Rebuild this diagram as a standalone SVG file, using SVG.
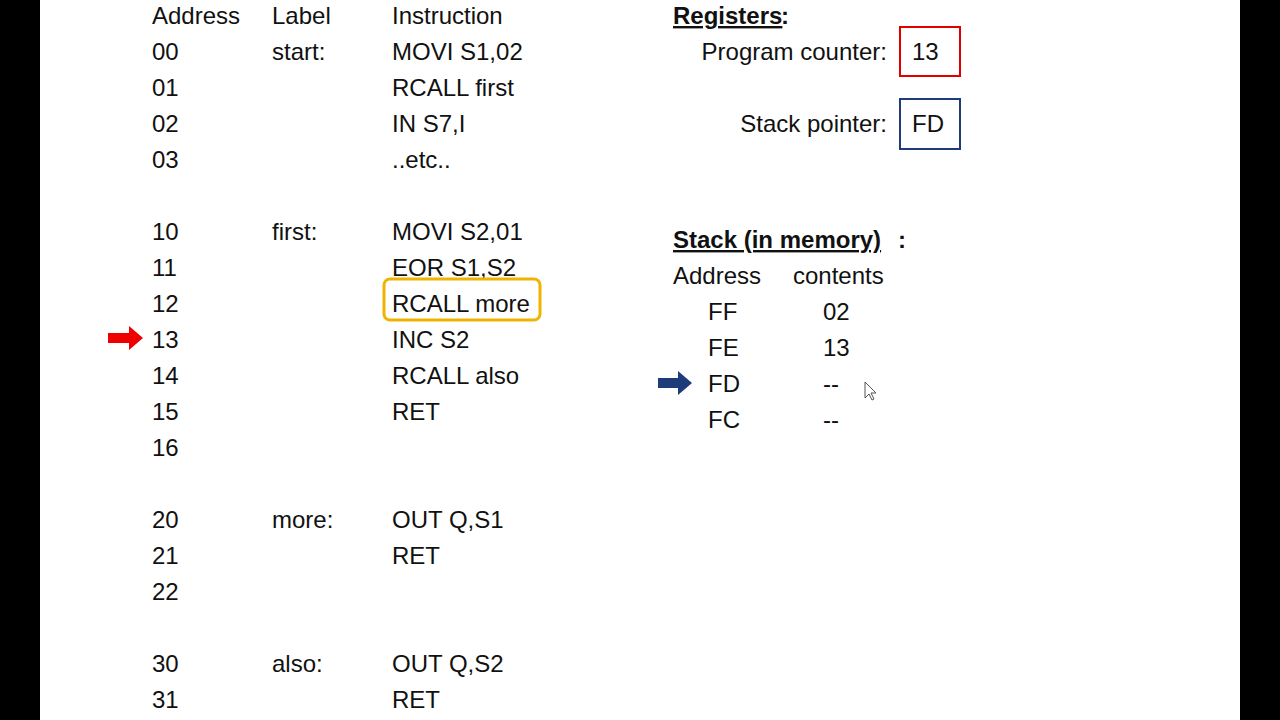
<svg xmlns="http://www.w3.org/2000/svg" width="1280" height="720" viewBox="0 0 1280 720">
<style>
text{font-family:"Liberation Sans",Arial,sans-serif;font-size:24px;fill:#111}
.b{font-weight:bold;text-decoration:underline}
</style>
<rect width="1280" height="720" fill="#fff"/>
<rect x="0" y="0" width="40" height="720" fill="#000"/>
<rect x="1240" y="0" width="40" height="720" fill="#000"/>
<g id="program">
<text x="152" y="24">Address</text><text x="272" y="24">Label</text><text x="392" y="24">Instruction</text>
<text x="152" y="60">00</text><text x="272" y="60">start:</text><text x="392" y="60">MOVI S1,02</text>
<text x="152" y="96">01</text><text x="392" y="96">RCALL first</text>
<text x="152" y="132">02</text><text x="392" y="132">IN S7,I</text>
<text x="152" y="168">03</text><text x="392" y="168">..etc..</text>
<text x="152" y="240">10</text><text x="272" y="240">first:</text><text x="392" y="240">MOVI S2,01</text>
<text x="152" y="276">11</text><text x="392" y="276">EOR S1,S2</text>
<text x="152" y="312">12</text><text x="392" y="312">RCALL more</text>
<text x="152" y="348">13</text><text x="392" y="348">INC S2</text>
<text x="152" y="384">14</text><text x="392" y="384">RCALL also</text>
<text x="152" y="420">15</text><text x="392" y="420">RET</text>
<text x="152" y="456">16</text>
<text x="152" y="528">20</text><text x="272" y="528">more:</text><text x="392" y="528">OUT Q,S1</text>
<text x="152" y="564">21</text><text x="392" y="564">RET</text>
<text x="152" y="600">22</text>
<text x="152" y="672">30</text><text x="272" y="672">also:</text><text x="392" y="672">OUT Q,S2</text>
<text x="152" y="708">31</text><text x="392" y="708">RET</text>
</g>
<g id="highlight"><rect x="384" y="279" width="156" height="41" rx="6" fill="none" stroke="#f0b400" stroke-width="3"/></g>
<g id="registers">
<text class="b" x="673" y="24">Registers</text><text x="781" y="24" font-weight="bold">:</text>
<text x="887" y="60" text-anchor="end">Program counter:</text>
<rect x="900" y="27" width="60" height="49" fill="none" stroke="#e00000" stroke-width="2"/>
<text x="912" y="60">13</text>
<text x="887" y="132" text-anchor="end">Stack pointer:</text>
<rect x="900" y="99" width="60" height="50" fill="none" stroke="#1f3c7a" stroke-width="2"/>
<text x="912" y="132">FD</text>
</g>
<g id="stack">
<text class="b" x="673" y="248">Stack (in memory)</text><text x="898" y="248" font-weight="bold">:</text>
<text x="673" y="284">Address</text><text x="793" y="284">contents</text>
<text x="708" y="320">FF</text><text x="823" y="320">02</text>
<text x="708" y="356">FE</text><text x="823" y="356">13</text>
<text x="708" y="392">FD</text><text x="823" y="392">--</text>
<text x="708" y="428">FC</text><text x="823" y="428">--</text>
</g>
<g id="connectors">
<polygon points="108,333 129,333 129,326 143,338 129,350 129,343 108,343" fill="#ee0000"/>
<polygon points="658,378 678,378 678,371 692,383 678,395 678,388 658,388" fill="#1f3c7a"/>
</g>
<polygon points="865,382 865,398 869,394 872,400 874,399 871,393 876,393" fill="#fff" stroke="#555" stroke-width="1"/>
</svg>
